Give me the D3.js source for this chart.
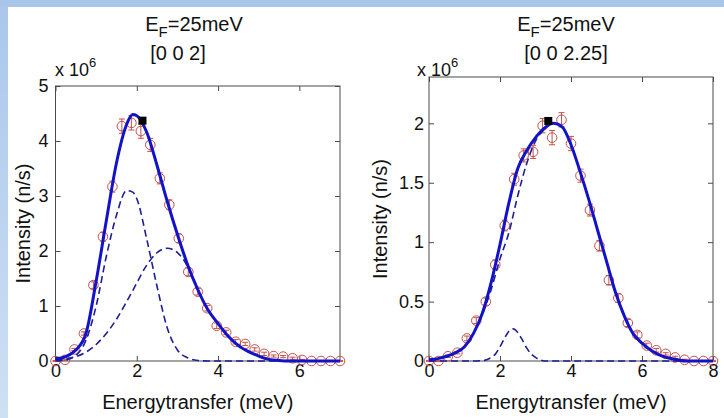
<!DOCTYPE html>
<html><head><meta charset="utf-8">
<script src="https://cdn.jsdelivr.net/npm/d3@7"></script>
<style>
body{margin:0;background:#fff}
text{font-family:"Liberation Sans",Arial,Helvetica,sans-serif;fill:#111}
</style>
</head><body><svg id="c" width="724" height="418"></svg>
<script>
// ---------- data: left panel [0 0 2] ----------
const ptsXL = [0,0.233,0.467,0.7,0.933,1.167,1.4,1.633,1.867,2.1,2.333,2.567,2.8,3.033,3.267,3.5,3.733,3.967,4.2,4.433,4.667,4.9,5.133,5.367,5.6,5.833,6.067,6.3,6.533,6.767,7.0];
const ptsYL = [0.0,0.02,0.21,0.50,1.38,2.26,3.17,4.27,4.33,4.18,3.93,3.32,2.84,2.23,1.62,1.26,0.96,0.64,0.52,0.35,0.31,0.21,0.13,0.09,0.08,0.05,0.02,0.0,0.0,0.0,0.0];
const errL  = [0.01,0.01,0.02,0.03,0.06,0.08,0.1,0.13,0.13,0.13,0.12,0.1,0.09,0.08,0.07,0.06,0.05,0.05,0.04,0.04,0.03,0.03,0.03,0.02,0.02,0.02,0.01,0.01,0.01,0.01,0.01];
const fitXL   = [0,0.25,0.5,0.75,1,1.25,1.5,1.75,1.9,2,2.25,2.5,2.75,3,3.25,3.5,3.75,4,4.25,4.5,4.75,5,5.25,5.5,5.75,6,6.5,7];
const totalL  = [0.04,0.08,0.2,0.5,1.45,2.55,3.6,4.3,4.48,4.46,4.15,3.55,2.9,2.3,1.75,1.3,0.93,0.68,0.45,0.28,0.17,0.09,0.03,0.01,0,0,0,0];
const mode1L  = [0,0.02,0.1,0.38,1.0,1.9,2.65,3.1,3.07,2.95,2.2,1.35,0.6,0.2,0.06,0.01,0,0,0,0,0,0,0,0,0,0,0,0];
const mode2L  = [0.02,0.04,0.08,0.16,0.3,0.5,0.76,1.08,1.28,1.42,1.75,1.97,2.05,1.97,1.72,1.3,0.93,0.68,0.45,0.28,0.17,0.09,0.03,0.01,0,0,0,0];
const markL = [2.14, 4.37];
const xTicksL = [0,2,4,6];
const yTicksL = [0,1,2,3,4,5];

// ---------- data: right panel [0 0 2.25] ----------
const ptsXR = [0,0.267,0.533,0.8,1.067,1.333,1.6,1.867,2.133,2.4,2.667,2.933,3.2,3.467,3.733,4.0,4.267,4.533,4.8,5.067,5.333,5.6,5.867,6.133,6.4,6.667,6.933,7.2,7.467,7.733,8.0];
const ptsYR = [0.0,0.0,0.04,0.07,0.19,0.34,0.5,0.81,1.14,1.53,1.73,1.76,1.98,1.88,2.03,1.83,1.56,1.27,0.97,0.68,0.53,0.32,0.22,0.13,0.09,0.06,0.03,0.01,0,0,0];
const errR  = [0.005,0.005,0.01,0.01,0.02,0.025,0.03,0.04,0.045,0.05,0.055,0.055,0.06,0.06,0.06,0.06,0.055,0.05,0.045,0.04,0.035,0.03,0.025,0.02,0.015,0.01,0.01,0.005,0.005,0.005,0.005];
const fitXR   = [0,0.25,0.5,0.75,1,1.25,1.5,1.75,2,2.25,2.5,2.75,3,3.25,3.5,3.75,4,4.25,4.5,4.75,5,5.25,5.5,5.75,6,6.25,6.5,6.75,7,7.25,7.5,8];
const totalR  = [0.01,0.02,0.04,0.07,0.12,0.23,0.4,0.66,0.98,1.33,1.62,1.77,1.88,1.96,2.0,1.97,1.82,1.6,1.36,1.1,0.84,0.58,0.38,0.23,0.15,0.09,0.05,0.025,0.01,0,0,0];
const mode1R  = [0.01,0.02,0.04,0.07,0.12,0.23,0.39,0.6,0.86,1.08,1.39,1.66,1.85,1.95,2.0,1.97,1.82,1.6,1.36,1.1,0.84,0.58,0.38,0.23,0.15,0.09,0.05,0.025,0.01,0,0,0];
const mode2XR = [0,1.25,1.5,1.625,1.75,1.875,2,2.125,2.25,2.375,2.5,2.625,2.75,2.875,3,3.125,3.25,8];
const mode2R  = [0,0,0.003,0.01,0.03,0.06,0.12,0.19,0.25,0.27,0.24,0.18,0.11,0.06,0.03,0.01,0,0];
const markR = [3.36, 2.02];
const xTicksR = [0,2,4,6,8];
const yTicksR = [0,0.5,1,1.5,2];

// ---------- drawing ----------
const svg = d3.select("#c");
const defs = svg.append("defs");
const grad = defs.append("linearGradient").attr("id","lg").attr("x1",0).attr("y1",0).attr("x2",0).attr("y2",1);
grad.append("stop").attr("offset","0%").attr("stop-color","#a9c7eb");
grad.append("stop").attr("offset","100%").attr("stop-color","#cfe0f4");
svg.append("rect").attr("width",724).attr("height",418).attr("fill","url(#lg)");
svg.append("rect").attr("x",0).attr("y",0).attr("width",724).attr("height",7).attr("fill","#a8c6ea");
svg.append("rect").attr("x",8).attr("y",7).attr("width",716).attr("height",411).attr("fill","#fff");

const frameColor = "#4a4a4a";
const ptColor = "#c0524a";
const solidColor = "#1212c8";
const dashColor = "#1e1e96";

function panel(c) {
  const x = d3.scaleLinear().domain(c.xDom).range(c.xRange);
  const y = d3.scaleLinear().domain(c.yDom).range(c.yRange);
  const g = svg.append("g");
  const fmt = d3.format("~g");

  const ax = [
    [d3.axisBottom(x).tickValues(c.xTicks).tickSize(-5).tickPadding(3).tickFormat(fmt), `translate(0,${c.yRange[0]})`],
    [d3.axisTop(x).tickValues(c.xTicks).tickSize(-5).tickFormat(""), `translate(0,${c.yRange[1]})`],
    [d3.axisLeft(y).tickValues(c.yTicks).tickSize(-5).tickPadding(c.yPad).tickFormat(fmt), `translate(${c.xRange[0]},0)`],
    [d3.axisRight(y).tickValues(c.yTicks).tickSize(-5).tickFormat(""), `translate(${c.xRange[1]},0)`]
  ];
  ax.forEach(([a, t]) => {
    const ag = g.append("g").attr("transform", t).call(a);
    ag.select(".domain").remove();
    ag.selectAll(".tick line").attr("stroke", frameColor);
    ag.selectAll(".tick text").attr("font-size", 18).attr("fill", "#111")
      .style("font-family", '"Liberation Sans",Arial,sans-serif');
  });
  g.append("rect").attr("x", c.xRange[0]).attr("y", c.yRange[1])
    .attr("width", c.xRange[1]-c.xRange[0]).attr("height", c.yRange[0]-c.yRange[1])
    .attr("fill","none").attr("stroke",frameColor).attr("stroke-width",1);

  const pts = c.px.map((v,i)=>({x:v,y:c.py[i],e:c.pe[i]}));
  const pg = g.append("g").attr("stroke", ptColor).attr("fill","none").attr("stroke-width",1);
  pts.forEach(p => {
    const cx = x(p.x);
    pg.append("line").attr("x1",cx).attr("x2",cx).attr("y1",y(p.y-p.e)).attr("y2",y(p.y+p.e));
    pg.append("line").attr("x1",cx-3).attr("x2",cx+3).attr("y1",y(p.y-p.e)).attr("y2",y(p.y-p.e));
    pg.append("line").attr("x1",cx-3).attr("x2",cx+3).attr("y1",y(p.y+p.e)).attr("y2",y(p.y+p.e));
    pg.append("circle").attr("cx",cx).attr("cy",y(p.y)).attr("r",4.8);
  });

  const line = d3.line().x(d=>x(d[0])).y(d=>y(d[1])).curve(d3.curveMonotoneX);
  c.curves.forEach(cv => {
    g.append("path").attr("d", line(cv.xs.map((v,i)=>[v,cv.ys[i]])))
      .attr("fill","none").attr("stroke",cv.color).attr("stroke-width",cv.w)
      .attr("stroke-dasharray",cv.dash||null).attr("stroke-linejoin","round");
  });

  g.append("rect").attr("x", x(c.mark[0])-4).attr("y", y(c.mark[1])-4)
    .attr("width",8).attr("height",8).attr("fill","#000");

  const t1 = g.append("text").attr("x", c.t1x).attr("y", 31).attr("text-anchor","middle").attr("font-size",20);
  t1.append("tspan").text("E");
  t1.append("tspan").attr("dy",6).attr("font-size",15).text("F");
  t1.append("tspan").attr("dy",-6).text("=25meV");
  g.append("text").attr("x", c.t2x).attr("y", 60).attr("text-anchor","middle").attr("font-size",20).text(c.t2);

  const ex = g.append("text").attr("x", c.exX).attr("y", 76).attr("font-size",18);
  ex.append("tspan").text("x 10");
  ex.append("tspan").attr("dy",-9).attr("font-size",13).text("6");

  g.append("text").attr("x", (c.xRange[0]+c.xRange[1])/2).attr("y", 409)
    .attr("text-anchor","middle").attr("font-size",20).text("Energytransfer (meV)");
  g.append("text").attr("transform", `translate(${c.ylx},${(c.yRange[0]+c.yRange[1])/2}) rotate(-90)`)
    .attr("text-anchor","middle").attr("font-size",20).text("Intensity (n/s)");
}

panel({
  xDom:[0,7], yDom:[0,5], xRange:[55.5,340], yRange:[361,86],
  xTicks:xTicksL, yTicks:yTicksL, yPad:7,
  px:ptsXL, py:ptsYL, pe:errL,
  curves:[
    {xs:fitXL, ys:mode2L, color:dashColor, w:1.6, dash:"7,4"},
    {xs:fitXL, ys:mode1L, color:dashColor, w:1.6, dash:"7,4"},
    {xs:fitXL, ys:totalL, color:solidColor, w:3}
  ],
  mark:markL, t1x:194, t2x:178, t2:"[0 0 2]", exX:55, ylx:30
});

panel({
  xDom:[0,8], yDom:[0,2.39], xRange:[429,713], yRange:[361,77],
  xTicks:xTicksR, yTicks:yTicksR, yPad:5,
  px:ptsXR, py:ptsYR, pe:errR,
  curves:[
    {xs:mode2XR, ys:mode2R, color:dashColor, w:1.6, dash:"7,4"},
    {xs:fitXR, ys:mode1R, color:dashColor, w:1.6, dash:"7,4"},
    {xs:fitXR, ys:totalR, color:solidColor, w:3}
  ],
  mark:markR, t1x:566, t2x:566, t2:"[0 0 2.25]", exX:417, ylx:387
});
</script>
</body></html>
